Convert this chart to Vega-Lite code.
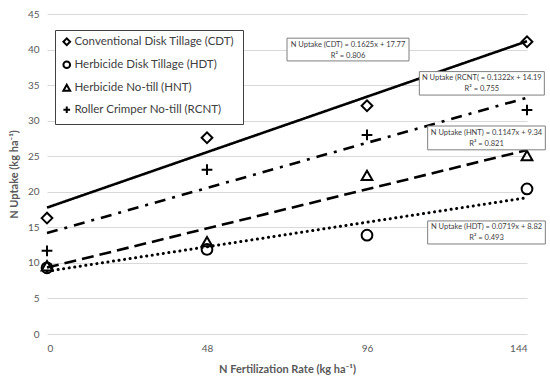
{
  "$schema": "https://vega.github.io/schema/vega-lite/v6.json",
  "width": 480,
  "height": 320,
  "autosize": {"type": "none"},
  "padding": {"left": 47, "top": 14, "right": 23, "bottom": 53},
  "background": "white",
  "config": {
    "view": {"stroke": null},
    "font": "Lato",
    "axis": {
      "domain": false,
      "ticks": false,
      "gridColor": "#d9d9d9",
      "gridWidth": 1,
      "labelColor": "#595959",
      "labelFont": "Lato",
      "labelFontSize": 10,
      "titleColor": "#595959",
      "titleFont": "Lato",
      "titleFontSize": 11,
      "titleFontWeight": "bold"
    }
  },
  "datasets": {
    "obs": [
      {"rate": 0, "uptake": 16.3, "treatment": "Conventional  Disk Tillage (CDT)"},
      {"rate": 48, "uptake": 27.6, "treatment": "Conventional  Disk Tillage (CDT)"},
      {"rate": 96, "uptake": 32.1, "treatment": "Conventional  Disk Tillage (CDT)"},
      {"rate": 144, "uptake": 41.1, "treatment": "Conventional  Disk Tillage (CDT)"},
      {"rate": 0, "uptake": 9.3, "treatment": "Herbicide Disk Tillage (HDT)"},
      {"rate": 48, "uptake": 11.9, "treatment": "Herbicide Disk Tillage (HDT)"},
      {"rate": 96, "uptake": 13.9, "treatment": "Herbicide Disk Tillage (HDT)"},
      {"rate": 144, "uptake": 20.4, "treatment": "Herbicide Disk Tillage (HDT)"},
      {"rate": 0, "uptake": 9.6, "treatment": "Herbicide No-till (HNT)"},
      {"rate": 48, "uptake": 13.0, "treatment": "Herbicide No-till (HNT)"},
      {"rate": 96, "uptake": 22.3, "treatment": "Herbicide No-till (HNT)"},
      {"rate": 144, "uptake": 25.1, "treatment": "Herbicide No-till (HNT)"},
      {"rate": 0, "uptake": 11.7, "treatment": "Roller Crimper No-till (RCNT)"},
      {"rate": 48, "uptake": 23.1, "treatment": "Roller Crimper No-till (RCNT)"},
      {"rate": 96, "uptake": 28.0, "treatment": "Roller Crimper No-till (RCNT)"},
      {"rate": 144, "uptake": 31.5, "treatment": "Roller Crimper No-till (RCNT)"}
    ],
    "trend": [
      {"rate": 0, "uptake": 17.77, "series": "CDT"},
      {"rate": 144, "uptake": 41.17, "series": "CDT"},
      {"rate": 0, "uptake": 8.82, "series": "HDT"},
      {"rate": 144, "uptake": 19.17, "series": "HDT"},
      {"rate": 0, "uptake": 9.34, "series": "HNT"},
      {"rate": 144, "uptake": 25.86, "series": "HNT"},
      {"rate": 0, "uptake": 14.19, "series": "RCNT"},
      {"rate": 144, "uptake": 33.23, "series": "RCNT"}
    ],
    "notes": [
      {"series": "CDT", "eq": "N Uptake (CDT) = 0.1625x + 17.77", "r2": "R² = 0.806", "x1": 72, "x2": 108.6, "xc": 90.3, "y1": 41.6, "y2": 38.4, "yc": 40.0},
      {"series": "RCNT", "eq": "N Uptake (RCNT( = 0.1322x + 14.19", "r2": "R² = 0.755", "x1": 111.7, "x2": 149.2, "xc": 130.45, "y1": 36.9, "y2": 33.6, "yc": 35.25},
      {"series": "HNT", "eq": "N Uptake (HNT) = 0.1147x + 9.34", "r2": "R² = 0.821", "x1": 114.2, "x2": 149.5, "xc": 131.85, "y1": 29.25, "y2": 25.9, "yc": 27.575},
      {"series": "HDT", "eq": "N Uptake (HDT) = 0.0719x + 8.82", "r2": "R² = 0.493", "x1": 114.2, "x2": 149.5, "xc": 131.85, "y1": 15.9, "y2": 12.66, "yc": 14.28}
    ]
  },
  "encoding": {
    "x": {
      "type": "quantitative",
      "scale": {"domain": [0, 144], "nice": false},
      "axis": {"values": [0, 48, 96, 144], "grid": false, "labelPadding": 9, "title": "N Fertilization Rate (kg ha⁻¹)", "titlePadding": 10}
    },
    "y": {
      "type": "quantitative",
      "scale": {"domain": [0, 45], "nice": false},
      "axis": {"values": [0, 5, 10, 15, 20, 25, 30, 35, 40, 45], "labelPadding": 8, "title": "N Uptake (kg ha⁻¹)", "titlePadding": 8}
    }
  },
  "layer": [
    {
      "data": {"name": "trend"},
      "transform": [{"filter": "datum.series !== 'HDT'"}],
      "mark": {"type": "line", "color": "black", "strokeWidth": 2.6, "strokeCap": "butt"},
      "encoding": {
        "x": {"field": "rate", "type": "quantitative"},
        "y": {"field": "uptake", "type": "quantitative"},
        "detail": {"field": "series"},
        "strokeDash": {
          "field": "series",
          "type": "nominal",
          "scale": {"domain": ["CDT", "HNT", "RCNT"], "range": [[1, 0], [12, 6], [11, 7, 3, 7]]},
          "legend": null
        }
      }
    },
    {
      "data": {"name": "trend"},
      "transform": [{"filter": "datum.series === 'HDT'"}],
      "mark": {"type": "line", "color": "black", "strokeWidth": 3, "strokeCap": "round", "strokeDash": [0.1, 5.5]},
      "encoding": {
        "x": {"field": "rate", "type": "quantitative"},
        "y": {"field": "uptake", "type": "quantitative"}
      }
    },
    {
      "data": {"name": "obs"},
      "mark": {"type": "point", "filled": false, "color": "black", "strokeWidth": 2, "size": 115, "opacity": 1},
      "encoding": {
        "x": {"field": "rate", "type": "quantitative"},
        "y": {"field": "uptake", "type": "quantitative"},
        "shape": {
          "field": "treatment",
          "type": "nominal",
          "scale": {
            "domain": ["Conventional  Disk Tillage (CDT)", "Herbicide Disk Tillage (HDT)", "Herbicide No-till (HNT)", "Roller Crimper No-till (RCNT)"],
            "range": ["diamond", "circle", "triangle-up", "M-1,0H1M0,-1V1"]
          },
          "legend": {
            "orient": "none",
            "legendX": 8,
            "legendY": 16,
            "title": null,
            "padding": 6,
            "strokeColor": "#404040",
            "fillColor": "white",
            "labelFont": "Lato",
            "labelFontSize": 11.5,
            "labelColor": "#404040",
            "labelOffset": 2,
            "labelLimit": 400,
            "symbolSize": 45,
            "symbolStrokeWidth": 2,
            "symbolStrokeColor": "black",
            "symbolFillColor": "transparent",
            "rowPadding": 7
          }
        }
      }
    },
    {
      "data": {"name": "notes"},
      "mark": {"type": "rect", "fill": "white", "stroke": "#7f7f7f", "strokeWidth": 1},
      "encoding": {
        "x": {"field": "x1", "type": "quantitative"},
        "x2": {"field": "x2"},
        "y": {"field": "y1", "type": "quantitative"},
        "y2": {"field": "y2"}
      }
    },
    {
      "data": {"name": "notes"},
      "mark": {"type": "text", "font": "Lato", "fontSize": 7.5, "color": "#404040", "dy": -5, "baseline": "middle", "align": "center"},
      "encoding": {
        "x": {"field": "xc", "type": "quantitative"},
        "y": {"field": "yc", "type": "quantitative"},
        "text": {"field": "eq"}
      }
    },
    {
      "data": {"name": "notes"},
      "mark": {"type": "text", "font": "Lato", "fontSize": 7.5, "color": "#404040", "dy": 6, "baseline": "middle", "align": "center"},
      "encoding": {
        "x": {"field": "xc", "type": "quantitative"},
        "y": {"field": "yc", "type": "quantitative"},
        "text": {"field": "r2"}
      }
    }
  ]
}
